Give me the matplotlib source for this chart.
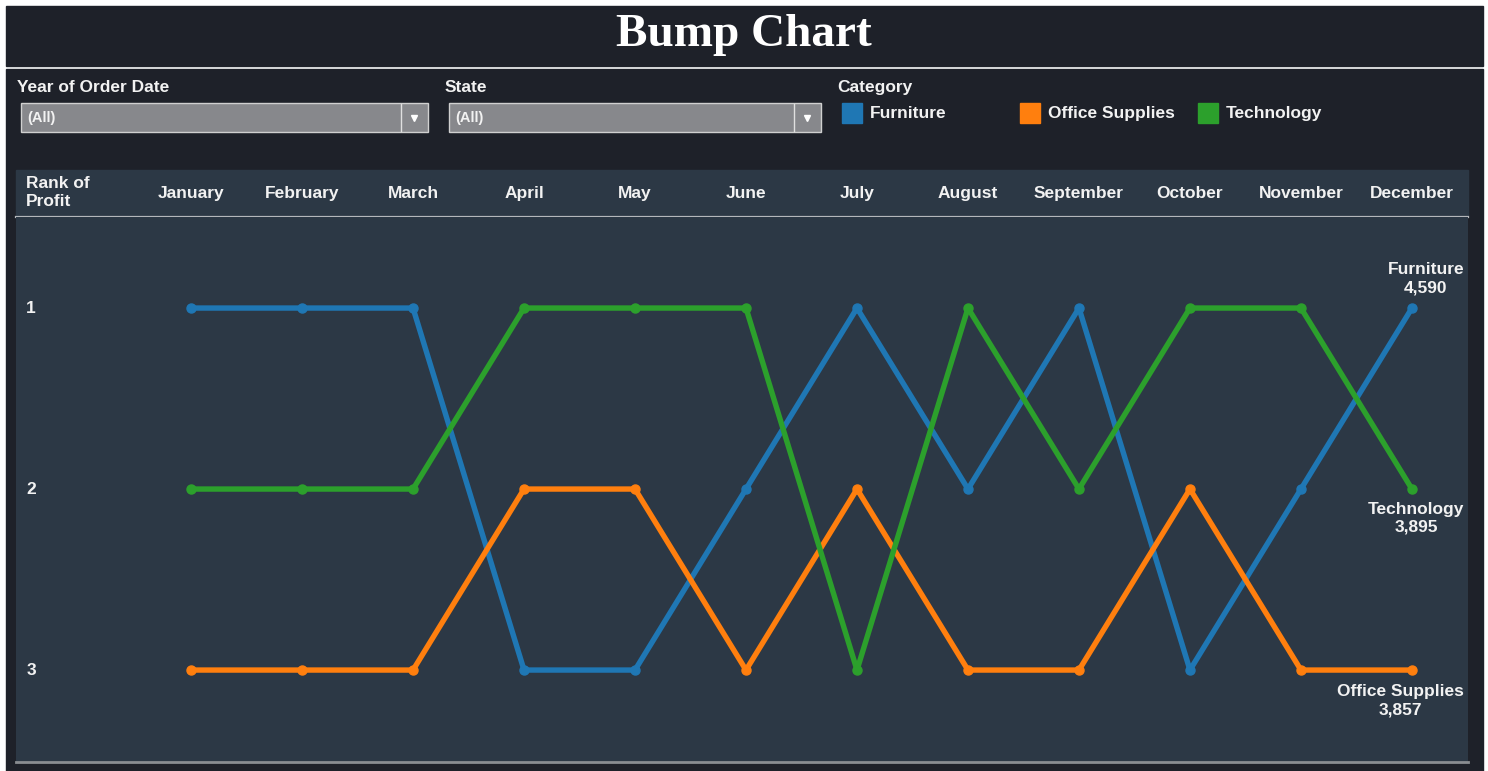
import matplotlib
matplotlib.use('Agg')
import matplotlib.pyplot as plt
import matplotlib.transforms as mtransforms
from matplotlib.patches import Rectangle

# data
months = ['January', 'February', 'March', 'April', 'May', 'June', 'July',
          'August', 'September', 'October', 'November', 'December']
categories = ['Furniture', 'Office Supplies', 'Technology']
furniture_rank = [1, 1, 1, 3, 3, 2, 1, 2, 1, 3, 2, 1]
office_rank = [3, 3, 3, 2, 2, 3, 2, 3, 3, 2, 3, 3]
technology_rank = [2, 2, 2, 1, 1, 1, 3, 1, 2, 1, 1, 2]
last_profit = {'Furniture': '4,590', 'Office Supplies': '3,857', 'Technology': '3,895'}

colors = {'Furniture': '#1f77b4', 'Office Supplies': '#ff7f0e', 'Technology': '#2ca02c'}
ranks = {'Furniture': furniture_rank, 'Office Supplies': office_rank, 'Technology': technology_rank}

W, H = 1488, 771
outer = '#1e2129'
panel = '#2c3845'
txt = '#f2f2f2'
fs = 12.5
plt.rcParams['font.family'] = ['Liberation Sans', 'DejaVu Sans']

fig = plt.figure(figsize=(W / 100, H / 100), dpi=100, facecolor='white')

# background layer in pixel coordinates
bg = fig.add_axes([0, 0, 1, 1], zorder=0)
bg.set_xlim(0, W)
bg.set_ylim(H, 0)
bg.axis('off')
bg.add_patch(Rectangle((6, 6), 1477, 60, color=outer))
bg.add_patch(Rectangle((6, 69), 1477, H - 69, color=outer))
bg.add_patch(Rectangle((16, 170), 1452, 47, color=panel))
bg.plot([16, 1468], [217, 217], color='#b4b7bb', lw=1.6)

bg.text(744, 35, 'Bump Chart', ha='center', va='center', color='white',
        fontsize=34, fontweight='bold', family='Liberation Serif')

# filter boxes
for label, x0, x1 in [('Year of Order Date', 21, 428), ('State', 449, 821)]:
    bg.text(x0 - 4, 92, label, ha='left', va='baseline', color=txt, fontsize=fs, fontweight='bold')
    bg.add_patch(Rectangle((x0, 103), x1 - x0, 29, facecolor='#87888c', edgecolor='#d0d0d0', lw=1))
    bg.plot([x1 - 27, x1 - 27], [104, 131], color='#e0e0e0', lw=1)
    bg.plot([x1 - 14], [118], marker='v', color='white', markersize=5)
    bg.text(x0 + 6, 118, '(All)', ha='left', va='center', color=txt, fontsize=10.5, fontweight='bold')

# legend
bg.text(837, 92, 'Category', ha='left', va='baseline', color=txt, fontsize=fs, fontweight='bold')
for cat, x in zip(categories, [842, 1020, 1198]):
    bg.add_patch(Rectangle((x, 103), 20, 20, color=colors[cat]))
    bg.text(x + 28, 118, cat, ha='left', va='baseline', color=txt, fontsize=fs, fontweight='bold')

# main plot
ax = fig.add_axes([16 / W, 1 - 762 / H, 1452 / W, 545 / H], zorder=1)
ax.set_facecolor(panel)
x = list(range(len(months)))
for cat in categories:
    ax.plot(x, ranks[cat], color=colors[cat], lw=3.9, marker='o', markersize=6.5,
            solid_capstyle='round', solid_joinstyle='round')

ax.set_xlim(-1.577, 11.505)
ax.set_ylim(3.508, 0.497)
for s in ax.spines.values():
    s.set_visible(False)
ax.spines['bottom'].set_visible(True)
ax.spines['bottom'].set_color('#8a8d91')
ax.spines['bottom'].set_linewidth(2)
ax.set_xticks([])
ax.set_yticks([])

# rank labels
ytr = mtransforms.blended_transform_factory(ax.transAxes, ax.transData)
for r in [1, 2, 3]:
    ax.text(0.007, r, str(r), transform=ytr, ha='left', va='center',
            color=txt, fontsize=fs, fontweight='bold')

# month header
htr = mtransforms.blended_transform_factory(ax.transData, bg.transData)
for i, m in enumerate(months):
    bg.text(i, 198, m, transform=htr, ha='center', va='baseline', color=txt,
            fontsize=fs, fontweight='bold')
bg.text(26, 193, 'Rank of\nProfit', ha='left', va='center', color=txt,
        fontsize=fs, fontweight='bold', linespacing=1.25)

# end labels
offsets = {'Furniture': (10, 21), 'Technology': (3, -21), 'Office Supplies': (-8, -22)}
for cat in categories:
    ax.annotate(cat + '\n' + last_profit[cat], (x[-1], ranks[cat][-1]),
                xytext=offsets[cat], textcoords='offset points', ha='center', va='center',
                color=txt, fontsize=fs, fontweight='bold', linespacing=1.25,
                annotation_clip=False)

fig.savefig('out.png', dpi=100, facecolor=fig.get_facecolor())
